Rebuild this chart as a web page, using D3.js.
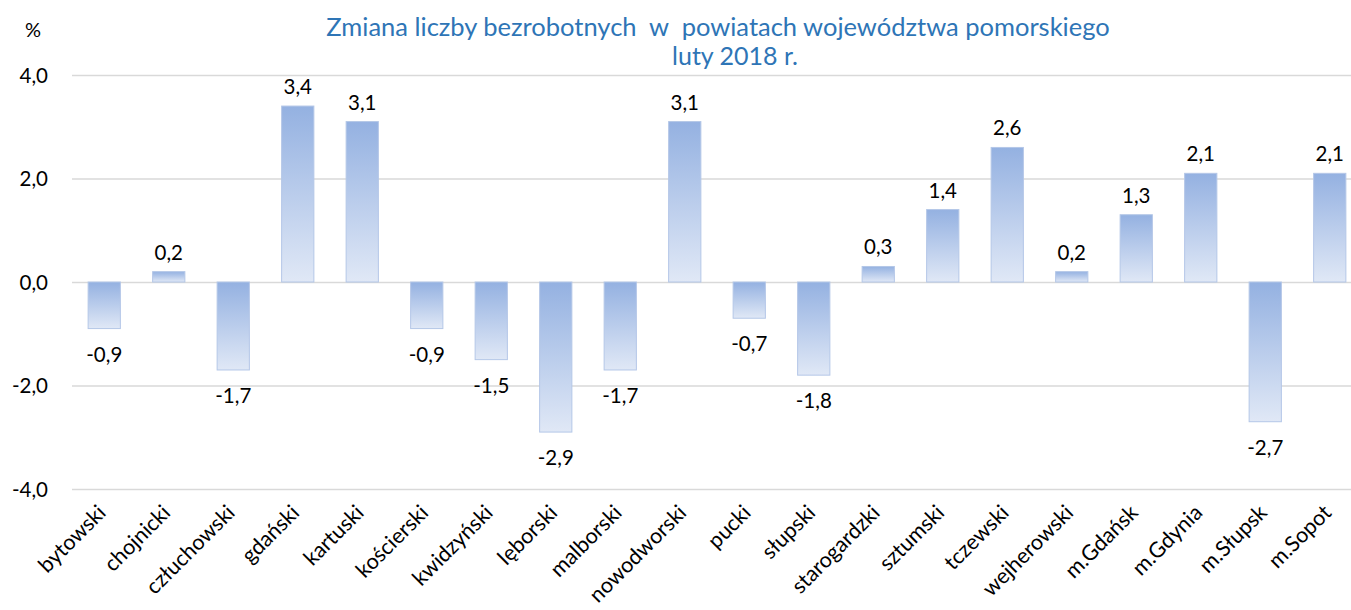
<!DOCTYPE html>
<html>
<head>
<meta charset="utf-8">
<script src="https://cdn.jsdelivr.net/npm/d3@7"></script>
<style>
  body { margin: 0; background: #fff; }
  text { font-family: Lato, "Noto Sans", sans-serif; fill: #000; }
</style>
</head>
<body>
<svg id="chart" width="1351" height="610"></svg>
<script>
// powiaty
let categories = ["bytowski", "chojnicki", "człuchowski", "gdański", "kartuski", "kościerski",
    "kwidzyński", "lęborski", "malborski", "nowodworski", "pucki", "słupski", "starogardzki",
    "sztumski", "tczewski", "wejherowski", "m.Gdańsk", "m.Gdynia", "m.Słupsk", "m.Sopot"];

// zmiana w %
let values = [-0.9, 0.2, -1.7, 3.4, 3.1, -0.9, -1.5, -2.9, -1.7, 3.1, -0.7, -1.8, 0.3,
    1.4, 2.6, 0.2, 1.3, 2.1, -2.7, 2.1];

let yTicks = [-4, -2, 0, 2, 4];

let titleLines = ["Zmiana liczby bezrobotnych  w  powiatach województwa pomorskiego", "luty 2018 r."];

let svg = d3.select("#chart");

let plotLeft = 72, plotRight = 1362, plotTop = 75, plotBottom = 489;

let xScale = d3.scaleBand()
    .domain(categories)
    .range([plotLeft, plotRight])
    .paddingInner(0.5)
    .paddingOuter(0.25);

let yScale = d3.scaleLinear()
    .domain([-4, 4])
    .range([plotBottom, plotTop]);

let fmt = v => d3.format(".1f")(v).replace(".", ",").replace("−", "-");

// gradient for bars
let defs = svg.append("defs");
let grad = defs.append("linearGradient")
    .attr("id", "barGrad")
    .attr("x1", 0).attr("y1", 0).attr("x2", 0).attr("y2", 1);
grad.append("stop").attr("offset", "0%").attr("stop-color", "#94b1e1");
grad.append("stop").attr("offset", "100%").attr("stop-color", "#e0e8f6");

// gridlines
let yAxis = d3.axisLeft(yScale)
    .tickValues(yTicks)
    .tickSize(-(plotRight - plotLeft))
    .tickPadding(24)
    .tickFormat(fmt);

let gY = svg.append("g")
    .attr("transform", "translate(" + plotLeft + ",0)")
    .call(yAxis);
gY.select(".domain").remove();
gY.selectAll("line").attr("stroke", "#d9d9d9").attr("stroke-width", 1.5);
gY.selectAll("text")
    .attr("font-size", 20.5)
    .attr("dy", "0.36em");

// bars
svg.append("g").selectAll("rect")
    .data(values)
    .join("rect")
    .attr("x", (d, i) => xScale(categories[i]))
    .attr("width", xScale.bandwidth())
    .attr("y", d => yScale(Math.max(0, d)))
    .attr("height", d => Math.abs(yScale(d) - yScale(0)))
    .attr("fill", "url(#barGrad)")
    .attr("stroke", "#b4c7e7")
    .attr("stroke-width", 1);

// value labels
svg.append("g").selectAll("text")
    .data(values)
    .join("text")
    .attr("x", (d, i) => xScale(categories[i]) + xScale.bandwidth() / 2)
    .attr("y", d => d >= 0 ? yScale(d) - 12 : yScale(d) + 33)
    .attr("text-anchor", "middle")
    .attr("font-size", 20.5)
    .text(d => fmt(d));

// category labels
svg.append("g").selectAll("text")
    .data(categories)
    .join("text")
    .attr("transform", d => "translate(" + (xScale(d) + xScale.bandwidth() / 2 + 3) + "," + 514 + ") rotate(-45)")
    .attr("text-anchor", "end")
    .attr("font-size", 21.5)
    .text(d => d);

// title
svg.append("text")
    .attr("x", 718)
    .attr("y", 36)
    .attr("text-anchor", "middle")
    .attr("font-size", 25.5)
    .style("fill", "#2e75b6")
    .style("white-space", "pre")
    .text(titleLines[0]);
svg.append("text")
    .attr("x", 735)
    .attr("y", 65)
    .attr("text-anchor", "middle")
    .attr("font-size", 25)
    .style("fill", "#2e75b6")
    .text(titleLines[1]);

svg.append("text")
    .attr("x", 33)
    .attr("y", 37)
    .attr("text-anchor", "middle")
    .attr("font-size", 20)
    .text("%");
</script>
</body>
</html>
